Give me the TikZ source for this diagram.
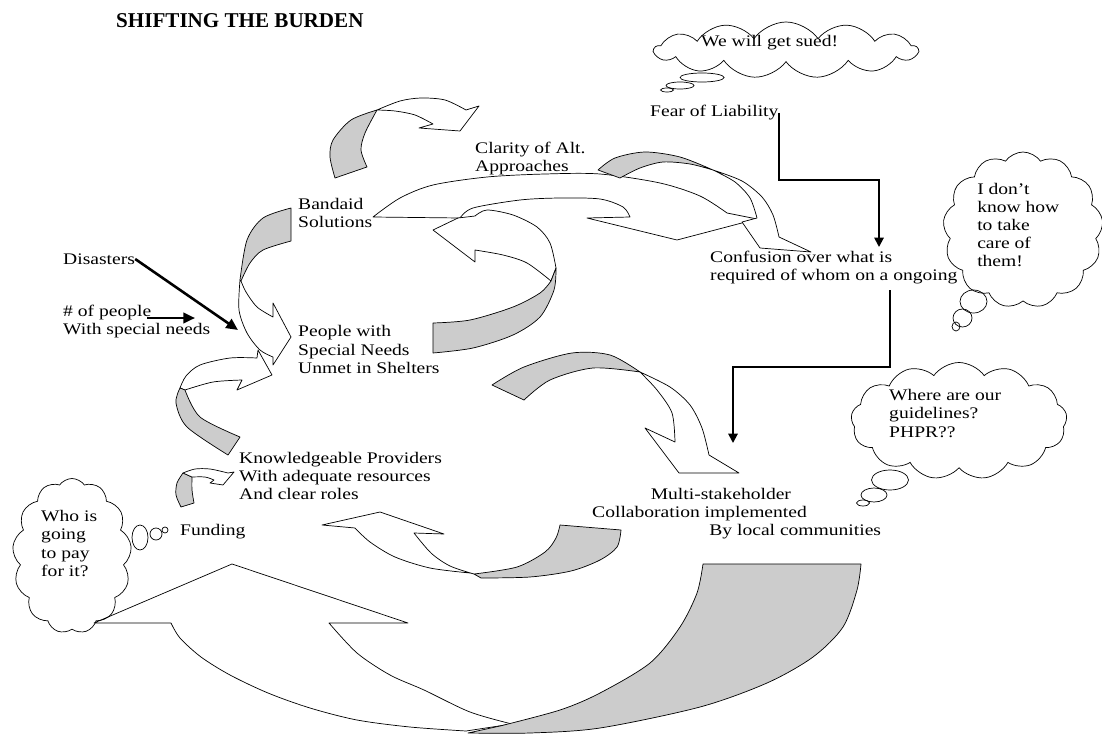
\documentclass[tikz,border=0pt]{standalone}
\usepackage{fontspec}
\setmainfont{Liberation Serif}[FakeStretch=1.21]
\newfontfamily\titlefont{Liberation Serif}
\usepackage{tikz}
\usetikzlibrary{arrows.meta,positioning,calc,shapes.symbols}
\definecolor{ribbongrey}{gray}{0.8}

\begin{document}
\begin{tikzpicture}[x=0.03cm,y=-0.03cm,
    lbl/.style={anchor=west,inner sep=0pt,align=left,font=\fontsize{13.8}{15.4}\selectfont},
    ribbon/.style={draw=black,fill=white,line width=0.6pt,line join=round},
    shade/.style={draw=black,fill=ribbongrey,line width=0.6pt,line join=round},
    thought/.style={cloud,draw,cloud puffs=13,cloud puff arc=110,cloud ignores aspect,inner sep=0pt,line width=0.6pt},
    bubble/.style={draw,line width=0.6pt},
    causal/.style={line width=2.2pt,-{Triangle[length=10pt,width=9pt]}},
    elbow/.style={line width=1.6pt,-{Triangle[length=8pt,width=8pt]}}]
            \useasboundingbox (0,0) rectangle (1102,733);

            \draw[shade] plot[smooth] coordinates {(377,110) (351,120) (333,140) (330,157) (335,178)} -- plot[smooth] coordinates {(367,167) (361,150) (365,133) (377,110)} -- cycle;
            \draw[ribbon] plot[smooth] coordinates {(377,110) (400,101) (421,98) (445,100) (466,110)} -- (479,106) -- (460,131) -- (419,128) -- (433,124) -- plot[smooth] coordinates {(433,124) (415,115) (395,111) (377,110)} -- cycle;

            \draw[ribbon] plot[smooth] coordinates {(240,280) (239,310) (247,333) (260,350) (273,357)} -- (273,365) -- (291,337) -- (273,303) -- (273,317) -- plot[smooth] coordinates {(273,317) (257,307) (246,292) (241,281)} -- cycle;
            \draw[shade] (291,208) -- (291,241) -- plot[smooth] coordinates {(291,241) (263,250) (250,263) (241,281)} -- plot[smooth] coordinates {(240,280) (247,240) (263,218) (291,208)} -- cycle;

            \draw[ribbon] plot[smooth] coordinates {(180,388) (186,376) (200,365) (230,358) (257,358)} -- (258,350) -- (272,375) -- (237,390) -- (242,380) -- plot[smooth] coordinates {(242,380) (213,382) (185,390)} -- cycle;
            \draw[shade] plot[smooth] coordinates {(180,388) (176,403) (187,427) (228,455)} -- plot[smooth] coordinates {(240,437) (200,417) (185,390)} -- cycle;

            \draw[ribbon] plot[smooth] coordinates {(373,217) (400,198) (433,185) (487,177) (545,174) (600,174) (660,183) (700,196) (727,213)} -- (757,219) -- (677,240) -- (587,218) -- plot[smooth] coordinates {(630,217) (623,207) (600,199) (560,198) (520,200) (473,208) (460,218)} -- cycle;

            \draw[shade] plot[smooth] coordinates {(598,170) (615,158) (645,152) (680,157) (713,170)} -- plot[smooth] coordinates {(713,170) (690,164) (663,162) (640,168) (620,178)} -- cycle;
            \draw[ribbon] plot[smooth] coordinates {(713,170) (742,181) (762,197) (773,215) (779,237)} -- (811,252) -- (760,248) -- (742,222) -- plot[smooth] coordinates {(757,218) (750,198) (735,182) (713,170)} -- cycle;

            \draw[ribbon] (556,268) -- plot[smooth] coordinates {(551,281) (527,263) (503,255) (475,250)} -- (475,262) -- (433,230) -- (458,218) -- plot[smooth] coordinates {(475,216) (487,210) (513,215) (537,227) (550,243) (556,268)} -- cycle;
            \draw[shade] plot[smooth] coordinates {(433,323) (470,320) (513,307) (540,293) (551,281)} -- plot[smooth] coordinates {(556,268) (554,290) (540,317) (513,335) (473,348) (433,353)} -- cycle;

            \draw[shade] plot[smooth] coordinates {(492,385) (524,367) (572,353) (610,355) (640,372)} -- plot[smooth] coordinates {(640,372) (593,368) (550,380) (524,400)} -- cycle;
            \draw[ribbon] plot[smooth] coordinates {(640,372) (670,387) (690,405) (702,428) (709,455)} -- (739,473) -- (679,473) -- (645,428) -- plot[smooth] coordinates {(675,442) (672,413) (657,390) (640,372)} -- cycle;

            \draw[ribbon] (355,528) -- (322,525) -- (380,512) -- (444,534) -- plot[smooth] coordinates {(414,533) (431,553) (450,566) (474,574)} -- plot[smooth] coordinates {(470,573) (430,568) (395,557) (370,542) (355,528)} -- cycle;
            \draw[shade] plot[smooth] coordinates {(474,574) (517,567) (545,552) (556,538) (560,525)} -- plot[smooth] coordinates {(621,530) (617,547) (600,560) (571,571) (530,577) (481,578)} -- cycle;

            \draw[shade] plot[smooth] coordinates {(183,473) (177,483) (176,495) (181,507)} -- plot[smooth] coordinates {(194,503) (192,490) (192,477)} -- cycle;
            \draw[ribbon] plot[smooth] coordinates {(183,473) (195,469) (210,469) (228,473)} -- (234,472) -- (223,485) -- (210,483) -- plot[smooth] coordinates {(214,480) (205,477) (192,477)} -- cycle;

            \draw[ribbon] (94,623) -- (232,564) -- (408,623) -- plot[smooth] coordinates {(329,623) (357,653) (390,675) (424,690) (470,712) (512,724)} -- plot[smooth] coordinates {(466,731) (410,727) (357,720) (310,708) (268,693) (230,675) (201,657) (180,638) (171,623)} -- cycle;
            \draw[shade] plot[smooth] coordinates {(500,726) (560,710) (600,693) (650,663) (680,627) (697,593) (703,564)} -- plot[smooth] coordinates {(861,564) (857,590) (843,627) (813,657) (767,683) (700,707) (600,728) (530,733) (468,733)} -- cycle;

            \node[thought, minimum width=7.89cm, minimum height=1.68cm] (sued) at (786,50) {};
            \node[thought, minimum width=4.8cm, minimum height=4.68cm] (dont) at (1023,230) {};
            \node[thought, minimum width=6.48cm, minimum height=3.51cm] (where) at (959,421) {};
            \node[thought, minimum width=3.57cm, minimum height=4.65cm] (who) at (72,556) {};
            \draw[bubble] (702,77.5) ellipse [x radius=22, y radius=4.5];
            \draw[bubble] (680,85.5) ellipse [x radius=14, y radius=3.5];
            \draw[bubble] (667,90) ellipse [x radius=6.5, y radius=2];
            \draw[bubble] (973.5,301.5) ellipse [x radius=13.5, y radius=11.5];
            \draw[bubble] (962.5,318) ellipse [x radius=9.5, y radius=9];
            \draw[bubble] (956,326.5) ellipse [x radius=4, y radius=4.5];
            \draw[bubble] (890,480) ellipse [x radius=18.5, y radius=10];
            \draw[bubble] (874,495) ellipse [x radius=13, y radius=7];
            \draw[bubble] (863,503) ellipse [x radius=6.5, y radius=3];
            \draw[bubble] (140,537.5) ellipse [x radius=8, y radius=12.5];
            \draw[bubble] (156,534) ellipse [x radius=6, y radius=6];
            \draw[bubble] (165,530) ellipse [x radius=3, y radius=3];

            \node[lbl, font=\titlefont\bfseries\fontsize{18}{20}\selectfont] (title) at (116,21) {SHIFTING THE BURDEN};
            \node[lbl] (suedtxt) at (701,43) {We will get sued!};
            \node[lbl] (dontxt) at (977,225) {I don’t\\know how\\to take\\care of\\them!};
            \node[lbl] (wheretxt) at (889,413.5) {Where are our\\guidelines?\\PHPR??};
            \node[lbl] (whotxt) at (41,543.5) {Who is\\going\\to pay\\for it?};
            \node[lbl] (fear) at (650,113) {Fear of Liability};
            \node[lbl] (clarity) at (475,159) {Clarity of Alt.\\Approaches};
            \node[lbl] (bandaid) at (298,212.5) {Bandaid\\Solutions};
            \node[lbl] (confusion) at (710,268) {Confusion over what is\\required of whom on a ongoing};
            \node[lbl] (dis) at (63,259) {Disasters};
            \node[lbl] (num) at (63,322) {\# of people\\With special needs};
            \node[lbl] (people) at (298,349.5) {People with\\Special Needs\\Unmet in Shelters};
            \node[lbl] (provid) at (239,476) {Knowledgeable Providers\\With adequate resources\\And clear roles};
            \node[lbl] (funding) at (180,532) {Funding};
            \node[lbl] (multi) at (592,513.5) {\hspace*{50pt}Multi-stakeholder\\Collaboration implemented\\\hspace*{100pt}By local communities};

            \coordinate (disTip) at (238,330);
            \coordinate (numTail) at (147,318);
            \coordinate (numTip) at (195,318);
            \coordinate (fearTip) at (879,247);
            \coordinate (confOut) at (890,290);
            \coordinate (multiIn) at (733,443);
            \draw[causal] (dis.east) -- (disTip);
            \draw[causal] (numTail) -- (numTip);
            \draw[elbow] (fear.east) -- ++(0,67) -| (fearTip);
            \draw[elbow] (confOut) -- ++(0,77) -| (multiIn);
        \end{tikzpicture}
\end{document}
